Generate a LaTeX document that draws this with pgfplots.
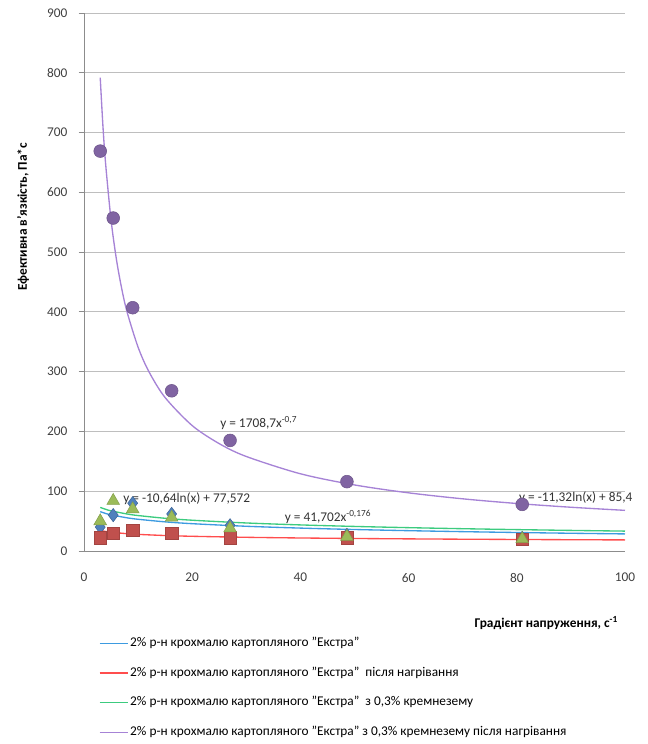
\documentclass[border=0pt]{standalone}
\usepackage{fontspec}
\setmainfont{Carlito}
\usepackage{pgfplots}
\pgfplotsset{compat=1.18}
\definecolor{mblue}{HTML}{4F81BD}
\definecolor{mred}{HTML}{C0504D}
\definecolor{mgreen}{HTML}{9BBB59}
\definecolor{mpurple}{HTML}{8064A2}
\definecolor{lblue}{HTML}{3D9BE0}
\definecolor{lred}{HTML}{FF4D4D}
\definecolor{lgreen}{HTML}{3CCB7F}
\definecolor{lpurple}{HTML}{A683D6}
\definecolor{axisgray}{HTML}{8C8C8C}
\definecolor{gridgray}{HTML}{BEBEBE}
\begin{document}
\begin{tikzpicture}
\useasboundingbox (0,0) rectangle (486pt,558pt);
\begin{axis}[
  at={(63pt,144.75pt)}, anchor=south west,
  scale only axis, width=405.75pt, height=403.5pt,
  xmin=0, xmax=100, ymin=0, ymax=900,
  xtick={0,20,...,100}, ytick={0,100,...,900},
  axis x line*=bottom, axis y line*=left,
  axis line style={draw=axisgray, line width=0.6pt, -},
  ymajorgrids, grid style={draw=gridgray, line width=0.6pt},
  tick align=outside, major tick length=4pt,
  tick style={draw=axisgray, line width=0.6pt},
  xtick style={draw=none},
  ticklabel style={font=\fontsize{10}{12}\selectfont, text=black!75},
  /pgf/number format/assume math mode=true,
  xticklabel style={yshift=-9pt},
  yticklabel style={xshift=-5pt},
  clip=false,
  legend style={at={(0.027,-0.156)}, anchor=north west, draw=none, fill=none,
    inner sep=0pt, row sep=10.3pt, cells={anchor=west},
    font=\fontsize{10}{12}\selectfont,
    nodes={inner sep=1.5pt, text height=7pt, text depth=2pt}},
  legend image code/.code={\draw[#1] (0pt,0pt) -- (21pt,0pt);},
]
% trendlines
\addplot[lblue, line width=1pt, smooth] coordinates {
(3,65.88)(4,62.82)(5,60.45)(8,55.45)(10,53.07)(15,48.76)(20,45.70)(30,41.38)(40,38.32)(50,35.95)(60,34.01)(70,32.37)(80,30.95)(90,29.69)(100,28.57)};
\addlegendentry{2\% р-н крохмалю картопляного "Екстра"}
\addplot[lred, line width=1pt, smooth] coordinates {
(3,34.37)(4,32.67)(5,31.41)(8,28.92)(10,27.81)(15,25.89)(20,24.61)(30,22.92)(40,21.79)(50,20.95)(60,20.29)(70,19.75)(80,19.29)(90,18.89)(100,18.54)};
\addlegendentry{2\% р-н крохмалю картопляного "Екстра"\ \ після нагрівання}
\addplot[lgreen, line width=1pt, smooth] coordinates {
(3,72.96)(4,69.71)(5,67.18)(8,61.86)(10,59.33)(15,54.74)(20,51.49)(30,46.90)(40,43.64)(50,41.12)(60,39.05)(70,37.31)(80,35.80)(90,34.46)(100,33.27)};
\addlegendentry{2\% р-н крохмалю картопляного "Екстра"\ \ з 0,3\% кремнезему}
\addplot[lpurple, line width=1pt, smooth] coordinates {
(3,791.8)(3.5,710.9)(4,647.4)(5,553.8)(6,487.5)(7,437.6)(8,398.6)(10,340.9)(12,300.0)(15,256.6)(20,209.8)(25,179.6)(30,158.1)(40,129.2)(50,110.5)(60,97.3)(70,87.3)(80,79.5)(90,73.2)(100,68.0)};
\addlegendentry{2\% р-н крохмалю картопляного "Екстра" з 0,3\% кремнезему після нагрівання}
% markers
\addplot[only marks, mark=diamond*, mark size=5pt, mark options={fill=mblue, draw=mblue!80!black}, forget plot] coordinates {
(3,40)(5.4,60)(9,80)(16.2,62)(27,43)(48.6,27)(81,22)};
\addplot[only marks, mark=square*, mark size=4.6pt, mark options={fill=mred, draw=mred!85!black}, forget plot] coordinates {
(3,22)(5.4,30)(9,35)(16.2,30)(27,22)(48.6,22)(81,20)};
\addplot[only marks, mark=triangle*, mark size=5.5pt, mark options={fill=mgreen, draw=mgreen!85!black}, forget plot] coordinates {
(3,50)(5.4,84)(9,70)(16.2,56)(27,38)(48.6,24)(81,20)};
\addplot[only marks, mark=*, mark size=4.8pt, mark options={fill=mpurple, draw=mpurple!85!black}, forget plot] coordinates {
(3,669)(5.4,557)(9,407)(16.2,268)(27,185)(48.6,116)(81,78)};
% trendline equations
\node[font=\fontsize{10}{12}\selectfont, text=black!80] at (axis cs:32.3,214) {y = 1708,7x\textsuperscript{-0,7}};
\node[font=\fontsize{10}{12}\selectfont, text=black!80] at (axis cs:19.0,87) {y = -10,64ln(x) + 77,572};
\node[font=\fontsize{10}{12}\selectfont, text=black!80] at (axis cs:45.1,57) {y = 41,702x\textsuperscript{-0,176}};
\node[font=\fontsize{10}{12}\selectfont, text=black!80] at (axis cs:90.9,90) {y = -11,32ln(x) + 85,4};
\end{axis}
\node[anchor=east, font=\bfseries\fontsize{10}{12}\selectfont] at (467pt,90.75pt) {Градієнт напруження, с\textsuperscript{-1}};
\node[rotate=90, font=\bfseries\fontsize{10}{12}\selectfont] at (17.25pt,395.25pt) {Ефективна в'язкість, Па*с};
\end{tikzpicture}
\end{document}
